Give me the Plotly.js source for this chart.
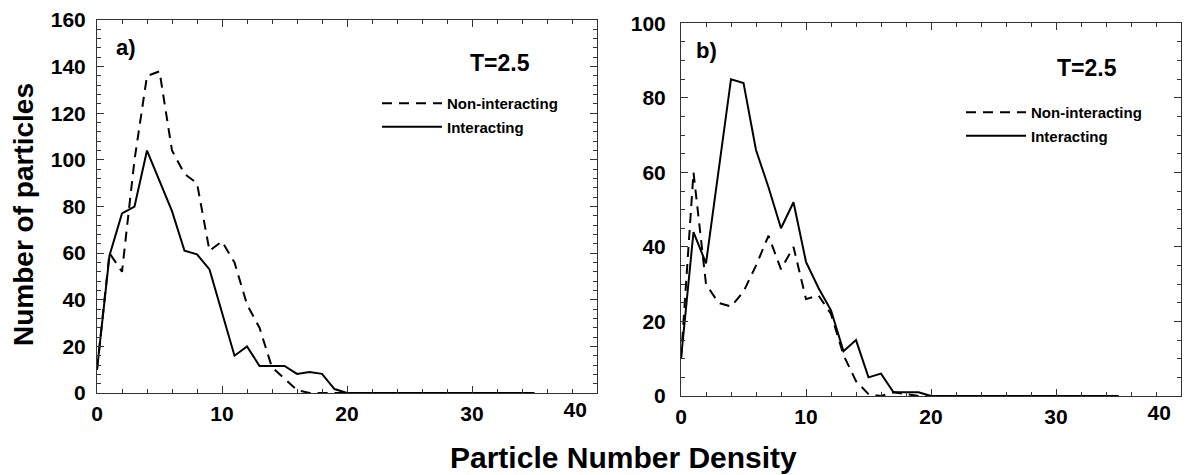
<!DOCTYPE html>
<html>
<head>
<meta charset="utf-8">
<script src="https://cdn.plot.ly/plotly-3.0.1.min.js"></script>
<style>html,body{margin:0;padding:0;background:#fff;}#chart{width:1185px;height:475px;}</style>
</head>
<body>
<div id="chart"></div>
<script>
// Particle number density bins
const density = [0,1,2,3,4,5,6,7,8,9,10,11,12,13,14,15,16,17,18,19,20,21,22,23,24,25,26,27,28,29,30,31,32,33,34,35];

// Panel a) T=2.5
const aNonInteracting = [10,60,52,100,136,138,104,94,90,61,65,56,38,28,11,6,1.3,0,0,0,0,0,0,0,0,0,0,0,0,0,0,0,0,0,0,0];
const aInteracting    = [10,59,77,80,104,91,78,61,59.5,53,35,16,20,11.6,11.6,11.6,8.2,9,8.2,1.7,0,0,0,0,0,0,0,0,0,0,0,0,0,0,0,0];

// Panel b) T=2.5
const bNonInteracting = [10,60,30,25,24,28,35,43,34,40,26,27,22,11,4,0.5,0,1,0.5,0,0,0,0,0,0,0,0,0,0,0,0,0,0,0,0,0];
const bInteracting    = [10,44,35.6,60,85,84,66,56,45,52,36,29,23,12,15,5,6,1,1,1,0,0,0,0,0,0,0,0,0,0,0,0,0,0,0,0];

const seriesNames = ['Non-interacting', 'Interacting'];
const panelLabels = ['a)', 'b)'];
const tempLabel = 'T=2.5';
const xTitle = 'Particle Number Density';
const yTitle = 'Number of particles';
const xTickVals = [0, 10, 20, 30];
const xTickText = ['0', '10', '20', '30'];
const xLastTickPos = [38.25];
const xLastTickText = ['40'];

const FONT = 'Liberation Sans, Arial, sans-serif';
const ink = '#000';
const axisCol = '#333';

function line(x, y, dash, name, xa, ya, leg) {
  return {
    type: 'scatter', mode: 'lines', x: x, y: y, name: name,
    xaxis: xa, yaxis: ya, legend: leg, legendgroup: leg + name,
    line: {color: ink, width: 2, dash: dash}, hoverinfo: 'skip'
  };
}

const traces = [
  line(density, aNonInteracting, '10px,7px', seriesNames[0], 'x', 'y', 'legend'),
  line(density, aInteracting, 'solid', seriesNames[1], 'x', 'y', 'legend'),
  line(density, bNonInteracting, '10px,7px', seriesNames[0], 'x2', 'y2', 'legend2'),
  line(density, bInteracting, 'solid', seriesNames[1], 'x2', 'y2', 'legend2'),
  // empty carriers so the overlay label axes are drawn
  {type: 'scatter', mode: 'lines', x: [], y: [], xaxis: 'x3', yaxis: 'y', showlegend: false, hoverinfo: 'skip'},
  {type: 'scatter', mode: 'lines', x: [], y: [], xaxis: 'x4', yaxis: 'y2', showlegend: false, hoverinfo: 'skip'}
];

const tickFont = {family: FONT, size: 21, color: ink, weight: 'bold'};

function xAx(domain, anchor) {
  return {
    domain: domain, anchor: anchor, range: [0, 40], tickmode: 'array',
    tickvals: xTickVals, ticktext: xTickText,
    ticks: 'inside', ticklen: 7, tickwidth: 1, tickcolor: axisCol,
    minor: {dtick: 2, tick0: 0, ticks: 'inside', ticklen: 4, tickcolor: axisCol, showgrid: false},
    showline: true, linecolor: axisCol, linewidth: 1, mirror: 'ticks',
    showgrid: false, zeroline: false, tickfont: tickFont, ticklabelstandoff: 2
  };
}
function xAxLast(base, anchor) {
  return {
    overlaying: base, anchor: anchor, range: [0, 40], side: 'bottom', tickmode: 'array',
    tickvals: xLastTickPos, ticktext: xLastTickText, ticks: '', showline: false,
    showgrid: false, zeroline: false, tickfont: tickFont, ticklabelstandoff: 2
  };
}
function yAx(domain, anchor, max, minorStep, standoff) {
  return {
    domain: domain, anchor: anchor, range: [0, max], dtick: 20, tick0: 0,
    ticks: 'inside', ticklen: 7, tickwidth: 1, tickcolor: axisCol,
    minor: {dtick: minorStep, tick0: 0, ticks: 'inside', ticklen: 4, tickcolor: axisCol, showgrid: false},
    showline: true, linecolor: axisCol, linewidth: 1, mirror: 'ticks',
    showgrid: false, zeroline: false, tickfont: tickFont, ticklabelstandoff: standoff
  };
}

const legFont = {family: FONT, size: 15, color: ink, weight: 'bold'};

const layout = {
  width: 1185, height: 475,
  margin: {l: 0, r: 0, t: 0, b: 0},
  paper_bgcolor: '#fff', plot_bgcolor: '#fff',
  showlegend: true,
  xaxis: xAx([97/1185, 597/1185], 'y'),
  yaxis: yAx([82/475, 455/475], 'x', 160, 4, 6),
  xaxis2: xAx([681/1185, 1181/1185], 'y2'),
  yaxis2: yAx([79/475, 451.7/475], 'x2', 100, 5, 10),
  xaxis3: xAxLast('x', 'y'),
  xaxis4: xAxLast('x2', 'y2'),
  legend: {x: 377/1185, y: (475-87)/475, xanchor: 'left', yanchor: 'top',
           bgcolor: 'rgba(0,0,0,0)', borderwidth: 0, font: legFont,
           itemwidth: 60, tracegroupgap: 1, traceorder: 'grouped'},
  legend2: {x: 961/1185, y: (475-96)/475, xanchor: 'left', yanchor: 'top',
            bgcolor: 'rgba(0,0,0,0)', borderwidth: 0, font: legFont,
            itemwidth: 60, tracegroupgap: 1, traceorder: 'grouped'},
  annotations: [
    {text: panelLabels[0], xref: 'x', yref: 'y', x: 2.3, y: 148.2, showarrow: false,
     font: {family: FONT, size: 22, color: ink, weight: 'bold'}},
    {text: panelLabels[1], xref: 'x2', yref: 'y2', x: 2.06, y: 92.6, showarrow: false,
     font: {family: FONT, size: 22, color: ink, weight: 'bold'}},
    {text: tempLabel, xref: 'x', yref: 'y', x: 32.24, y: 141.4, showarrow: false,
     font: {family: FONT, size: 23, color: ink, weight: 'bold'}},
    {text: tempLabel, xref: 'x2', yref: 'y2', x: 32.46, y: 87.9, showarrow: false,
     font: {family: FONT, size: 23, color: ink, weight: 'bold'}},
    {text: xTitle, xref: 'paper', yref: 'paper', x: 623/1185, y: (475-457)/475,
     xanchor: 'center', yanchor: 'middle', showarrow: false,
     font: {family: FONT, size: 30, color: ink, weight: 'bold'}},
    {text: yTitle, xref: 'paper', yref: 'paper', x: 24/1185, y: (475-215)/475,
     xanchor: 'center', yanchor: 'middle', showarrow: false, textangle: -90,
     font: {family: FONT, size: 28, color: ink, weight: 'bold'}}
  ]
};

Plotly.newPlot('chart', traces, layout, {staticPlot: true, displayModeBar: false});
</script>
</body>
</html>
